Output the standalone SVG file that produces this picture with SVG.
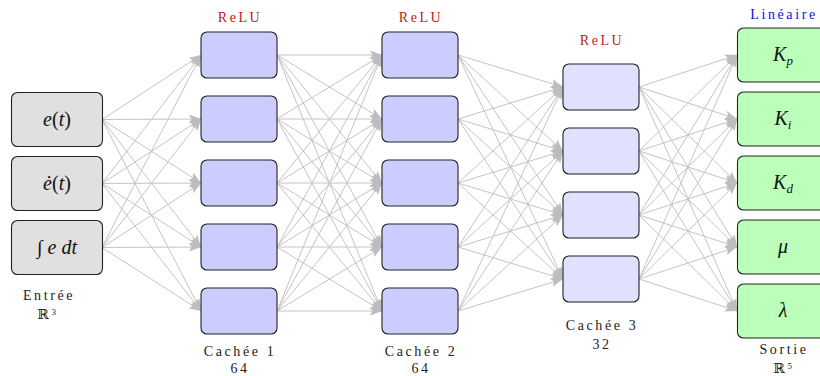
<svg xmlns="http://www.w3.org/2000/svg" width="820" height="376" viewBox="0 0 820 376" font-family="Liberation Serif, DejaVu Serif, serif">
<style>
.n rect{stroke:#222;stroke-width:1.1}
.in rect{fill:#e0e0e0}
.h rect{fill:#ccccff}
.h3 rect{fill:#e0e0ff}
.o rect{fill:#bbffbb}
.m{font-style:italic;font-size:20px;text-anchor:middle;fill:#111}
.up{font-style:normal}
.sub{font-size:13px}
.lb{font-size:14px;letter-spacing:2.6px;text-anchor:middle;fill:#222}
.sup{font-size:9px}
.red{fill:#c01818}
.blue{fill:#1010d0}
#edges line{stroke:#c4c4c4;stroke-width:1;marker-end:url(#ah)}
</style>
<defs>
<marker id="ah" markerUnits="userSpaceOnUse" markerWidth="13" markerHeight="10" refX="12" refY="4.5" orient="auto">
<path d="M0,0 L12,4.5 L0,9 L2.5,4.5 Z" fill="#bdbdbd"/>
</marker>
</defs>
<g id="edges">
<line x1="102" y1="119.5" x2="201" y2="55"/><line x1="102" y1="119.5" x2="201" y2="119"/><line x1="102" y1="119.5" x2="201" y2="183"/><line x1="102" y1="119.5" x2="201" y2="247"/><line x1="102" y1="119.5" x2="201" y2="311"/>
<line x1="102" y1="183.5" x2="201" y2="55"/><line x1="102" y1="183.5" x2="201" y2="119"/><line x1="102" y1="183.5" x2="201" y2="183"/><line x1="102" y1="183.5" x2="201" y2="247"/><line x1="102" y1="183.5" x2="201" y2="311"/>
<line x1="102" y1="247.5" x2="201" y2="55"/><line x1="102" y1="247.5" x2="201" y2="119"/><line x1="102" y1="247.5" x2="201" y2="183"/><line x1="102" y1="247.5" x2="201" y2="247"/><line x1="102" y1="247.5" x2="201" y2="311"/>

<line x1="277" y1="55" x2="382" y2="55"/><line x1="277" y1="55" x2="382" y2="119"/><line x1="277" y1="55" x2="382" y2="183"/><line x1="277" y1="55" x2="382" y2="247"/><line x1="277" y1="55" x2="382" y2="311"/>
<line x1="277" y1="119" x2="382" y2="55"/><line x1="277" y1="119" x2="382" y2="119"/><line x1="277" y1="119" x2="382" y2="183"/><line x1="277" y1="119" x2="382" y2="247"/><line x1="277" y1="119" x2="382" y2="311"/>
<line x1="277" y1="183" x2="382" y2="55"/><line x1="277" y1="183" x2="382" y2="119"/><line x1="277" y1="183" x2="382" y2="183"/><line x1="277" y1="183" x2="382" y2="247"/><line x1="277" y1="183" x2="382" y2="311"/>
<line x1="277" y1="247" x2="382" y2="55"/><line x1="277" y1="247" x2="382" y2="119"/><line x1="277" y1="247" x2="382" y2="183"/><line x1="277" y1="247" x2="382" y2="247"/><line x1="277" y1="247" x2="382" y2="311"/>
<line x1="277" y1="311" x2="382" y2="55"/><line x1="277" y1="311" x2="382" y2="119"/><line x1="277" y1="311" x2="382" y2="183"/><line x1="277" y1="311" x2="382" y2="247"/><line x1="277" y1="311" x2="382" y2="311"/>

<line x1="458" y1="55" x2="563" y2="87"/><line x1="458" y1="55" x2="563" y2="151"/><line x1="458" y1="55" x2="563" y2="215"/><line x1="458" y1="55" x2="563" y2="279"/>
<line x1="458" y1="119" x2="563" y2="87"/><line x1="458" y1="119" x2="563" y2="151"/><line x1="458" y1="119" x2="563" y2="215"/><line x1="458" y1="119" x2="563" y2="279"/>
<line x1="458" y1="183" x2="563" y2="87"/><line x1="458" y1="183" x2="563" y2="151"/><line x1="458" y1="183" x2="563" y2="215"/><line x1="458" y1="183" x2="563" y2="279"/>
<line x1="458" y1="247" x2="563" y2="87"/><line x1="458" y1="247" x2="563" y2="151"/><line x1="458" y1="247" x2="563" y2="215"/><line x1="458" y1="247" x2="563" y2="279"/>
<line x1="458" y1="311" x2="563" y2="87"/><line x1="458" y1="311" x2="563" y2="151"/><line x1="458" y1="311" x2="563" y2="215"/><line x1="458" y1="311" x2="563" y2="279"/>

<line x1="639" y1="87" x2="737" y2="55"/><line x1="639" y1="87" x2="737" y2="119"/><line x1="639" y1="87" x2="737" y2="183"/><line x1="639" y1="87" x2="737" y2="247"/><line x1="639" y1="87" x2="737" y2="311"/>
<line x1="639" y1="151" x2="737" y2="55"/><line x1="639" y1="151" x2="737" y2="119"/><line x1="639" y1="151" x2="737" y2="183"/><line x1="639" y1="151" x2="737" y2="247"/><line x1="639" y1="151" x2="737" y2="311"/>
<line x1="639" y1="215" x2="737" y2="55"/><line x1="639" y1="215" x2="737" y2="119"/><line x1="639" y1="215" x2="737" y2="183"/><line x1="639" y1="215" x2="737" y2="247"/><line x1="639" y1="215" x2="737" y2="311"/>
<line x1="639" y1="279" x2="737" y2="55"/><line x1="639" y1="279" x2="737" y2="119"/><line x1="639" y1="279" x2="737" y2="183"/><line x1="639" y1="279" x2="737" y2="247"/><line x1="639" y1="279" x2="737" y2="311"/>
</g>

<g id="in1" class="n in"><rect x="11.5" y="92.5" width="91" height="54" rx="6"/><text class="m" x="57" y="126">e<tspan class="up">(</tspan>t<tspan class="up">)</tspan></text></g>
<g id="in2" class="n in"><rect x="11.5" y="156.5" width="91" height="54" rx="6"/><text class="m" x="57" y="190">ė<tspan class="up">(</tspan>t<tspan class="up">)</tspan></text></g>
<g id="in3" class="n in"><rect x="11.5" y="220.5" width="91" height="54" rx="6"/><text class="m" x="57" y="254">∫ e dt</text></g>

<g id="h1a" class="n h"><rect x="201" y="32" width="76" height="46" rx="6"/></g>
<g id="h1b" class="n h"><rect x="201" y="96" width="76" height="46" rx="6"/></g>
<g id="h1c" class="n h"><rect x="201" y="160" width="76" height="46" rx="6"/></g>
<g id="h1d" class="n h"><rect x="201" y="224" width="76" height="46" rx="6"/></g>
<g id="h1e" class="n h"><rect x="201" y="288" width="76" height="46" rx="6"/></g>

<g id="h2a" class="n h"><rect x="382" y="32" width="76" height="46" rx="6"/></g>
<g id="h2b" class="n h"><rect x="382" y="96" width="76" height="46" rx="6"/></g>
<g id="h2c" class="n h"><rect x="382" y="160" width="76" height="46" rx="6"/></g>
<g id="h2d" class="n h"><rect x="382" y="224" width="76" height="46" rx="6"/></g>
<g id="h2e" class="n h"><rect x="382" y="288" width="76" height="46" rx="6"/></g>

<g id="h3a" class="n h3"><rect x="563" y="64" width="76" height="46" rx="6"/></g>
<g id="h3b" class="n h3"><rect x="563" y="128" width="76" height="46" rx="6"/></g>
<g id="h3c" class="n h3"><rect x="563" y="192" width="76" height="46" rx="6"/></g>
<g id="h3d" class="n h3"><rect x="563" y="256" width="76" height="46" rx="6"/></g>

<g id="o1" class="n o"><rect x="737.5" y="28" width="91" height="54" rx="6"/><text class="m" x="783" y="61">K<tspan class="sub" dy="4">p</tspan></text></g>
<g id="o2" class="n o"><rect x="737.5" y="92" width="91" height="54" rx="6"/><text class="m" x="783" y="125">K<tspan class="sub" dy="4">i</tspan></text></g>
<g id="o3" class="n o"><rect x="737.5" y="156" width="91" height="54" rx="6"/><text class="m" x="783" y="189">K<tspan class="sub" dy="4">d</tspan></text></g>
<g id="o4" class="n o"><rect x="737.5" y="220" width="91" height="54" rx="6"/><text class="m" x="783" y="253">μ</text></g>
<g id="o5" class="n o"><rect x="737.5" y="284" width="91" height="54" rx="6"/><text class="m" x="783" y="317">λ</text></g>

<g id="labels">
<text class="lb red" x="240" y="22">ReLU</text>
<text class="lb red" x="421" y="22">ReLU</text>
<text class="lb red" x="602" y="45">ReLU</text>
<text class="lb blue" x="784" y="19">Linéaire</text>
<text class="lb" x="49" y="300">Entrée</text>
<text class="lb" x="48" y="319">ℝ<tspan class="sup" dy="-4">3</tspan></text>
<text class="lb" x="240" y="356">Cachée 1</text>
<text class="lb" x="240" y="373">64</text>
<text class="lb" x="421" y="356">Cachée 2</text>
<text class="lb" x="421" y="373">64</text>
<text class="lb" x="602" y="330">Cachée 3</text>
<text class="lb" x="602" y="349">32</text>
<text class="lb" x="784" y="354">Sortie</text>
<text class="lb" x="784" y="373">ℝ<tspan class="sup" dy="-4">5</tspan></text>
</g>
</svg>
